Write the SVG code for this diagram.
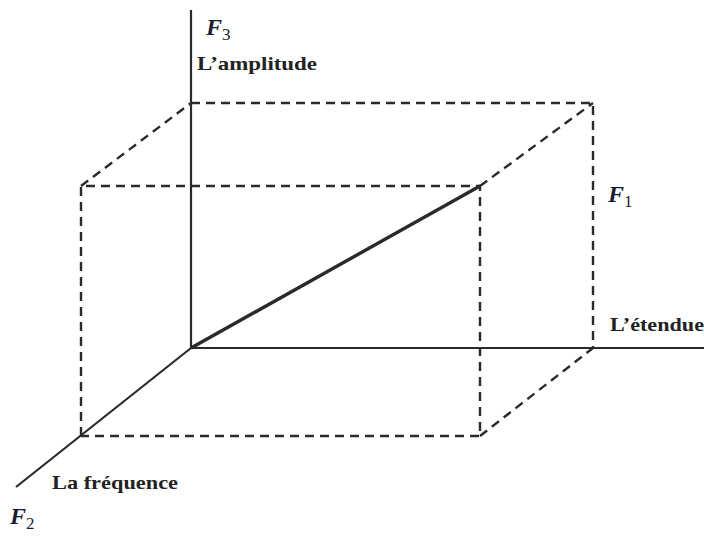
<svg xmlns="http://www.w3.org/2000/svg" width="704" height="540" viewBox="0 0 704 540">
<style>
.ax{stroke:#2a2a2a;stroke-width:2.2;fill:none}
.dash{stroke:#2a2a2a;stroke-width:2.4;fill:none;stroke-dasharray:9 6}
.lbl{font-family:"Liberation Serif",serif;font-weight:bold;font-size:19px;fill:#222}
.f{font-family:"Liberation Serif",serif;font-style:italic;font-weight:bold;font-size:24px;fill:#1c1c30}
.sub{font-style:normal;font-weight:normal;font-size:17px}
</style>
<rect width="704" height="540" fill="#fff"/>
<g id="connectors">
<line class="ax" x1="191" y1="10" x2="191" y2="349"/>
<line class="ax" x1="191" y1="348" x2="704" y2="348"/>
<line class="ax" x1="191" y1="348" x2="16" y2="487"/>
<line class="ax" x1="191" y1="348" x2="480" y2="186" style="stroke-width:3.4"/>
<polyline class="dash" points="191,103 593,103 593,348"/>
<polyline class="dash" points="81,436 81,186 480,186 480,436 81,436"/>
<line class="dash" x1="81" y1="186" x2="191" y2="103"/>
<line class="dash" x1="480" y1="186" x2="593" y2="103"/>
<line class="dash" x1="480" y1="436" x2="593" y2="348"/>
</g>
<g id="F3"><text class="f" x="206" y="35">F<tspan class="sub" dy="5">3</tspan></text></g>
<g id="amplitude"><text class="lbl" x="197" y="70" textLength="120" lengthAdjust="spacingAndGlyphs">L’amplitude</text></g>
<g id="F1"><text class="f" x="608" y="202">F<tspan class="sub" dy="5">1</tspan></text></g>
<g id="etendue"><text class="lbl" x="610" y="331" textLength="94" lengthAdjust="spacingAndGlyphs">L’étendue</text></g>
<g id="frequence"><text class="lbl" x="52" y="489" textLength="126" lengthAdjust="spacingAndGlyphs">La fréquence</text></g>
<g id="F2"><text class="f" x="10" y="524">F<tspan class="sub" dy="5">2</tspan></text></g>
</svg>
